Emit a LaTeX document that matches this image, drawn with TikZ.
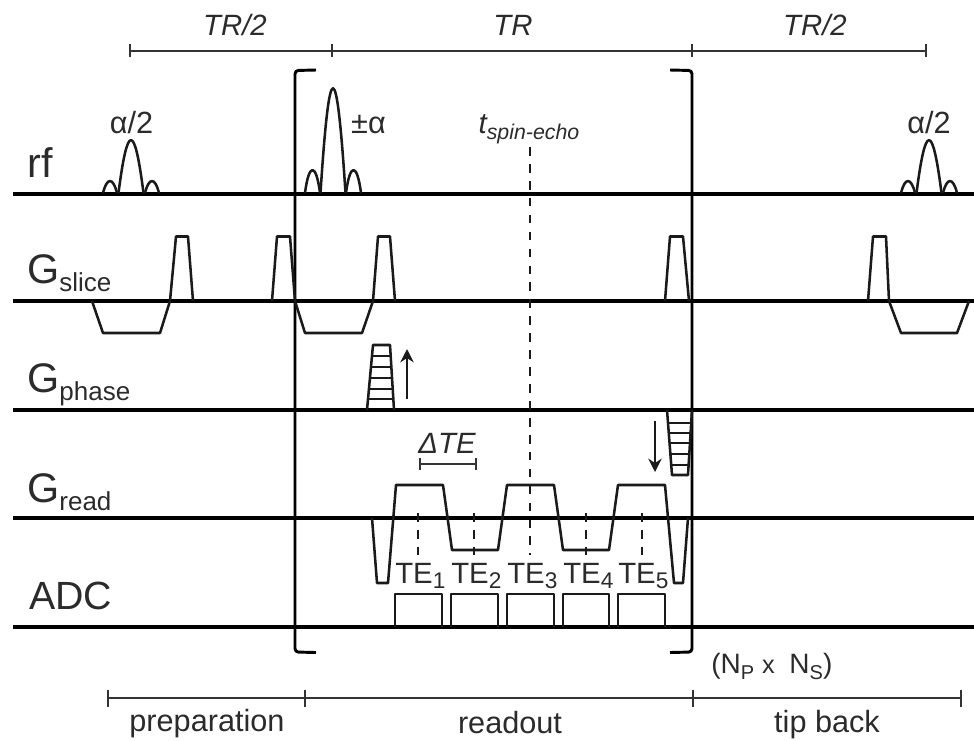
\documentclass[tikz,border=0pt]{standalone}
\usepackage{fontspec}
\setmainfont{Liberation Sans}
\usetikzlibrary{arrows.meta}
\definecolor{cink}{HTML}{1A1A1A}
\definecolor{ctext}{HTML}{2B2B2B}
\definecolor{cgrey}{HTML}{333333}
\newcommand{\lowtxt}[1]{\raisebox{-6.4pt}{\fontsize{19.5}{19.5}\selectfont #1}}
\newcommand{\lowsub}[1]{\raisebox{-4.5pt}{\fontsize{15}{15}\selectfont #1}}
\tikzset{
  every picture/.style={x=0.75pt, y=-0.75pt},
  axis/.style={draw=black, line width=3pt},
  bracket/.style={draw=black, line width=2.2pt, rounded corners=2.5pt},
  wave/.style={draw=cink, line width=1.9pt, line join=round},
  rung/.style={draw=cink, line width=1.7pt},
  ruler/.style={draw=cgrey, line width=1.5pt},
  dashline/.style={draw=cink, line width=1.9pt, dash pattern=on 6.5pt off 6.2pt},
  arrow/.style={-{Stealth[length=10pt, width=10pt]}, draw=cink, line width=1.7pt},
  chan/.style={anchor=base west, inner sep=0pt, text=ctext, font=\fontsize{31}{31}\selectfont},
  big/.style={anchor=base, inner sep=0pt, text=ctext, font=\fontsize{23}{23}\selectfont},
  bigit/.style={big, font=\fontsize{22}{22}\selectfont\itshape},
  lower/.style={big},
}
\begin{document}
\begin{tikzpicture}
  \useasboundingbox (0,0) rectangle (974,740);
  % channel axes
  \foreach \nm/\yy in {rf/193.5, slice/301, phase/410, read/518, adc/627} {
    \coordinate (\nm-l) at (13,\yy);
    \coordinate (\nm-r) at (974,\yy);
    \draw[axis] (\nm-l) -- (\nm-r);
  }
  \node[chan] (lrf) at (27,177) {rf};
  \node[chan] (lslice) at (27,283) {G\lowtxt{slice}};
  \node[chan] (lphase) at (27,392) {G\lowtxt{phase}};
  \node[chan] (lread) at (27,502) {G\lowtxt{read}};
  \node[chan, font=\fontsize{29.5}{29.5}\selectfont] (ladc) at (29,609) {ADC};

  % timing rulers
  \foreach \nm/\xx in {a/130, b/332, c/692, d/926} {
    \coordinate (top\nm) at (\xx,51);
    \draw[ruler] (\xx,44) -- (\xx,57);
  }
  \draw[ruler] (topa) -- (topd);
  \node[bigit] (trleft) at (235,35) {TR/2};
  \node[bigit] (trmid) at (513,35) {TR};
  \node[bigit] (trright) at (815,35) {TR/2};
  \foreach \nm/\xx in {a/108, b/305, c/693, d/961} {
    \coordinate (bot\nm) at (\xx,698);
    \draw[ruler] (\xx,690) -- (\xx,707);
  }
  \draw[ruler, line width=1.9pt] (bota) -- (botd);
  \node[lower] (prep) at (207,731) {preparation};
  \node[lower] (readout) at (510,733) {readout};
  \node[lower] (tipback) at (827,732) {tip back};

  % brackets
  \draw[bracket] (316,70) -- (295,70.5) -- (295,652) -- (316,652.5);
  \draw[bracket] (670,70) -- (692,70.5) -- (692,652) -- (670,652.5);
  \node[anchor=base west, inner sep=0pt, text=ctext, font=\fontsize{21}{21}\selectfont] (repeat) at (711,673)
    {(N\lowsub{P}\hspace{6pt}{\fontsize{19}{19}\selectfont x}\hspace{11pt}N\lowsub{S})};

  % rf pulses
  \foreach \cx/\hm/\hs/\wm/\wi/\wo in {131/53/12/12.5/14/28, 333/105/23/12.5/13/28, 929/53/12/12.5/14/28} {
    \draw[wave] (\cx-\wm,193) .. controls (\cx-3.5,193-1.33*\hm) and (\cx+3.5,193-1.33*\hm) .. (\cx+\wm,193);
    \draw[wave] (\cx-\wo,193) .. controls (\cx-\wo+4,193-1.33*\hs) and (\cx-\wi-4,193-1.33*\hs) .. (\cx-\wi,193);
    \draw[wave] (\cx+\wi,193) .. controls (\cx+\wi+4,193-1.33*\hs) and (\cx+\wo-4,193-1.33*\hs) .. (\cx+\wo,193);
  }
  \node[big] (flipa) at (131.5,133) {α/2};
  \node[big] (flipb) at (368.5,133) {±α};
  \node[big] (flipc) at (929,133) {α/2};
  \node[anchor=base, inner sep=0pt, text=ctext, font=\fontsize{22}{22}\selectfont\itshape] (echo) at (529,133)
    {t\raisebox{-4.6pt}{\fontsize{16}{16}\selectfont spin-echo}};

  % slice gradient
  \foreach \xa/\xb/\xc/\xd in {170/176/188/193, 272/277/290/295, 373/378/390/395, 665/670/683/689, 868/873/886/889} {
    \draw[wave] (\xa,301) -- (\xb,236.5) -- (\xc,236.5) -- (\xd,301);
  }
  \foreach \xa/\xb/\xc/\xd in {92/103/160/170, 295/305/362/373, 889/901/957/969} {
    \draw[wave] (\xa,301) -- (\xb,333) -- (\xc,333) -- (\xd,301);
  }

  % phase gradient
  \draw[wave] (367,410) -- (373,345) -- (390,345) -- (394,410);
  \foreach \yy/\xa/\xb in {356/371.5/390.5, 367/370.5/391.5, 378/370/392, 389/369/392.5, 399/368/393.5} {
    \draw[rung] (\xa,\yy) -- (\xb,\yy);
  }
  \coordinate (upa) at (407,399);
  \coordinate (upb) at (407,349);
  \draw[arrow] (upa) -- (upb);
  \draw[wave] (667,410) -- (672,475) -- (688,475) -- (692,410);
  \foreach \yy/\xa/\xb in {423/668/691, 433/669/690.5, 443/669.5/690, 454/670/689.5, 465/671/689} {
    \draw[rung] (\xa,\yy) -- (\xb,\yy);
  }
  \coordinate (downa) at (655,421);
  \coordinate (downb) at (655,472);
  \draw[arrow] (downa) -- (downb);

  % read gradient
  \draw[wave] (372,518) -- (377,583) -- (388,583) -- (396,485) -- (443,485) -- (452,550) -- (498,550)
    -- (507,485) -- (554,485) -- (563,550) -- (609,550) -- (618,485) -- (665,485) -- (674,583) -- (683,583) -- (688,518);
  \foreach \xx in {418,474,586,642} {
    \draw[dashline] (\xx,513) -- (\xx,555);
  }
  \draw[dashline] (530,147) -- (530,555);
  \coordinate (tea) at (420,464);
  \coordinate (teb) at (476,464);
  \draw[ruler] (tea) -- (teb);
  \draw[ruler] (420,458) -- (420,470);
  \draw[ruler] (476,458) -- (476,470);
  \node[bigit] (dte) at (447,453) {ΔTE};

  % ADC windows and echo labels
  \foreach \i/\xa/\xb in {1/395/442, 2/451/498, 3/507/554, 4/563/609, 5/618/665} {
    \draw[wave] (\xa,627) -- (\xa,594) -- (\xb,594) -- (\xb,627);
    \node[big, anchor=base west, font=\fontsize{22}{22}\selectfont] (te\i) at (\xa,583)
      {TE\raisebox{-4pt}{\fontsize{17}{17}\selectfont \i}};
  }
\end{tikzpicture}
\end{document}
